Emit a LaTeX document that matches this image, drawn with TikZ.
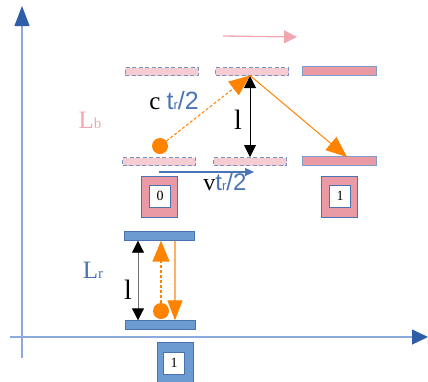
\documentclass[tikz,border=0pt]{standalone}
\usepackage{fontspec}
\setmainfont{Liberation Serif}
\newfontfamily\trsans{Liberation Sans}
\usetikzlibrary{arrows.meta}
\definecolor{axisline}{HTML}{8EA9DB}
\definecolor{axishead}{HTML}{2F5EA8}
\definecolor{barblue}{HTML}{6C9BD2}
\definecolor{edgeblue}{HTML}{4A72B0}
\definecolor{pinklight}{HTML}{F6CCD3}
\definecolor{pinkdark}{HTML}{EA9AA4}
\definecolor{pinktext}{HTML}{F2A6B0}
\definecolor{orng}{HTML}{FF8300}
\definecolor{orngl}{HTML}{FFB066}
\definecolor{txtblue}{HTML}{4A74B5}
\tikzset{
  ghostbar/.style={draw=edgeblue!75,dash pattern=on 4pt off 2.5pt,fill=pinklight,minimum width=73pt,minimum height=8pt,inner sep=0pt,line width=1pt},
  pinkbar/.style={draw=edgeblue!70,fill=pinkdark,minimum width=74pt,minimum height=8.5pt,inner sep=0pt,line width=1pt},
  bluebar/.style={draw=edgeblue,fill=barblue,minimum width=70pt,minimum height=8.5pt,inner sep=0pt,line width=0.9pt},
  outerbox/.style={draw=edgeblue,line width=0.9pt,minimum width=36pt,minimum height=41pt,inner sep=0pt},
  innerbox/.style={draw=edgeblue,fill=white,line width=0.9pt,minimum width=21pt,minimum height=22pt,inner sep=0pt,font=\fontsize{14}{14}\selectfont},
  photon/.style={circle,fill=orng,minimum size=16pt,inner sep=0pt},
  bigtip/.style={-{Triangle[length=21pt,width=17pt]}},
  lenarrow/.style={{Triangle[length=12pt,width=12pt,color=black]}-{Triangle[length=12pt,width=12pt,color=black]},line width=0.9pt},
  lbl/.style={inner sep=0pt,anchor=base}
}
\newcommand{\tsub}[1]{{\fontsize{13}{13}\selectfont #1}}
\begin{document}
\begin{tikzpicture}[x=1pt,y=-1pt]
\useasboundingbox (0,0) rectangle (428,381);
% axes
\coordinate (yend) at (22,358);
\coordinate (ytip) at (22,6);
\coordinate (xend) at (10,337);
\coordinate (xtip) at (428,337);
\draw [axisline,line width=1.2pt,-{Triangle[length=20pt,width=15pt,color=axishead]}] (yend) -- (ytip);
\draw [axisline,line width=1.2pt,-{Triangle[length=16pt,width=15pt,color=axishead]}] (xend) -- (xtip);
% moving frame
\node [ghostbar] (ta) at (161.5,71.5) {};
\node [ghostbar] (tb) at (252,71.5) {};
\node [pinkbar] (tc) at (339,71) {};
\node [ghostbar] (ba) at (159,161.5) {};
\node [ghostbar] (bb) at (250,161.5) {};
\node [pinkbar] (bc) at (339,161) {};
\coordinate (va) at (223,36);
\coordinate (vb) at (297,37);
\draw [pinktext,line width=1.3pt,-{Triangle[length=13pt,width=13pt]}] (va) -- (vb);
\node [photon] (pb) at (160,146) {};
\coordinate (hit) at (250,75.5);
\coordinate (land) at (347,157);
\draw [orng,line width=1pt,dash pattern=on 3pt off 2pt,bigtip] (pb) -- (hit);
\draw [orng,line width=1pt,bigtip] (hit) -- (land);
\draw [lenarrow] (tb.south -| hit) -- (bb.north -| hit);
\coordinate (sa) at (159,172);
\coordinate (sb) at (254,172);
\draw [txtblue,line width=1.1pt,-{Triangle[length=9pt,width=8pt]}] (sa) -- (sb);
\node [lbl] (ct) at (174,109) {\fontsize{25}{25}\selectfont c {\color{txtblue}\trsans t\tsub{r}/2}};
\node [lbl] (lb) at (238,129) {\fontsize{28}{28}\selectfont l};
\node [lbl,pinktext] (Lb) at (90,128) {\fontsize{25}{25}\selectfont L{\fontsize{15}{15}\selectfont b}};
\node [lbl] (vt) at (225,190) {\fontsize{24}{24}\selectfont v{\color{txtblue}\trsans t\tsub{r}/2}};
\node [outerbox,fill=pinkdark] (b0) at (159.5,197) {};
\node [innerbox] (b0in) at (160,196) {0};
\node [outerbox,fill=pinkdark] (b1) at (339.5,197) {};
\node [innerbox] (b1in) at (340,196) {1};
% rest frame
\node [bluebar] (ra) at (159,236) {};
\node [bluebar] (rb) at (160,325) {};
\node [photon] (pr) at (161,311) {};
\draw [lenarrow,draw=black!55] (ra.south -| 138,0) -- (rb.north -| 138,0);
\draw [orng,line width=1.5pt,dash pattern=on 3pt off 2pt,bigtip] (pr) -- (ra.south -| pr);
\draw [orngl,line width=1.3pt,-{Triangle[length=20pt,width=15pt,color=orng]}] (ra.south -| 175,0) -- (rb.north -| 175,0);
\node [lbl,txtblue] (Lr) at (93,278) {\fontsize{25}{25}\selectfont L{\fontsize{15}{15}\selectfont r}};
\node [lbl] (lr) at (128,299) {\fontsize{28}{28}\selectfont l};
\node [outerbox,fill=barblue,minimum height=44pt] (b2) at (175,364) {};
\node [innerbox] (b2in) at (174,363) {1};
\end{tikzpicture}
\end{document}
